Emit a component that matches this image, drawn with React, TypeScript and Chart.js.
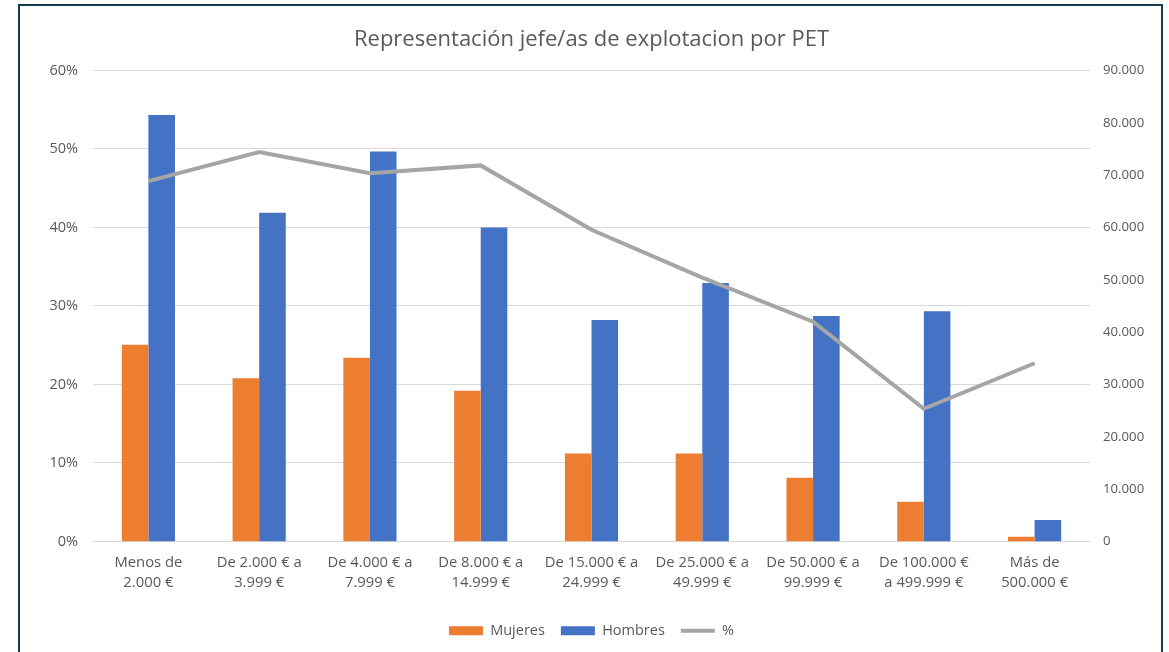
import React, { useEffect, useRef } from "react";
import { Chart, registerables } from "chart.js";

Chart.register(...registerables);

const categories: string[][] = [
  ["Menos de", "2.000 €"],
  ["De 2.000 € a", "3.999 €"],
  ["De 4.000 € a", "7.999 €"],
  ["De 8.000 € a", "14.999 €"],
  ["De 15.000 € a", "24.999 €"],
  ["De 25.000 € a", "49.999 €"],
  ["De 50.000 € a", "99.999 €"],
  ["De 100.000 €", "a 499.999 €"],
  ["Más de", "500.000 €"],
];

const mujeres: number[] = [37600, 31200, 35100, 28800, 16800, 16800, 12200, 7600, 900];
const hombres: number[] = [81500, 62800, 74500, 60000, 42300, 49400, 43100, 44000, 4100];
const porcentaje: number[] = [45.9, 49.6, 46.9, 47.9, 39.7, 33.6, 28.0, 16.9, 22.7];

const TITLE = "Representación jefe/as de explotacion por PET";
const FONT = "'Open Sans', sans-serif";
const TEXT = "#595959";

function fmtThousands(v: number | string): string {
  return String(Math.round(Number(v))).replace(/\B(?=(\d{3})+(?!\d))/g, ".");
}

export default function App() {
  const ref = useRef<HTMLCanvasElement>(null);

  useEffect(() => {
    if (!ref.current) return;
    const chart = new Chart(ref.current, {
      data: {
        labels: categories,
        datasets: [
          {
            type: "bar",
            label: "Mujeres",
            data: mujeres,
            backgroundColor: "#ED7D31",
            yAxisID: "y1",
            order: 2,
            categoryPercentage: 0.48,
            barPercentage: 1,
          },
          {
            type: "bar",
            label: "Hombres",
            data: hombres,
            backgroundColor: "#4472C4",
            yAxisID: "y1",
            order: 3,
            categoryPercentage: 0.48,
            barPercentage: 1,
          },
          {
            type: "line",
            label: "%",
            data: porcentaje,
            borderColor: "#A5A5A5",
            backgroundColor: "#A5A5A5",
            borderWidth: 4,
            pointRadius: 0,
            tension: 0,
            yAxisID: "y",
            order: 1,
          },
        ],
      } as any,
      options: {
        responsive: true,
        maintainAspectRatio: false,
        animation: false,
        events: [],
        layout: { padding: { left: 14, right: 0, top: 0, bottom: 4 } },
        plugins: {
          tooltip: { enabled: false },
          title: {
            display: true,
            text: TITLE,
            color: TEXT,
            font: { family: FONT, size: 22, weight: "normal", lineHeight: 1.2 },
            padding: { top: 27, bottom: 17 },
          },
          legend: {
            position: "bottom",
            labels: {
              usePointStyle: true,
              pointStyleWidth: 34,
              boxHeight: 9,
              padding: 16,
              color: TEXT,
              font: { family: FONT, size: 14.5 },
              sort: (a: any, b: any) => a.datasetIndex - b.datasetIndex,
              generateLabels: (c: any) => {
                const items = (Chart.defaults.plugins.legend.labels as any).generateLabels(c);
                return items.map((it: any) => ({
                  ...it,
                  pointStyle: c.data.datasets[it.datasetIndex].type === "line" ? "line" : "rect",
                }));
              },
            },
          },
        },
        scales: {
          x: {
            grid: { display: false, drawTicks: false },
            border: { display: false },
            ticks: {
              color: TEXT,
              font: { family: FONT, size: 14.8, lineHeight: 1.35 },
              padding: 11,
              maxRotation: 0,
              autoSkip: false,
            },
            afterFit: (s: any) => {
              s.height = 66;
            },
          },
          y: {
            type: "linear",
            position: "left",
            min: 0,
            max: 60,
            ticks: {
              stepSize: 10,
              callback: (v: any) => `${v}%`,
              color: TEXT,
              font: { family: FONT, size: 14.5 },
              padding: 15,
            },
            grid: { color: "#D9D9D9", lineWidth: 1, drawTicks: false },
            border: { display: false },
            afterFit: (s: any) => {
              s.width = 79;
            },
          },
          y1: {
            type: "linear",
            position: "right",
            min: 0,
            max: 90000,
            ticks: {
              stepSize: 10000,
              callback: (v: any) => fmtThousands(v),
              color: TEXT,
              font: { family: FONT, size: 13.2 },
              padding: 13,
            },
            grid: { display: false, drawTicks: false },
            border: { display: false },
            afterFit: (s: any) => {
              s.width = 79;
            },
          },
        },
      } as any,
    });
    return () => chart.destroy();
  }, []);

  return (
    <div
      style={{
        position: "fixed",
        left: 0,
        top: 0,
        width: 1169,
        height: 652,
        background: "#ffffff",
        overflow: "hidden",
      }}
    >
      <canvas ref={ref} />
      <div
        style={{
          position: "absolute",
          left: 18,
          top: 4,
          width: 1145,
          height: 660,
          boxSizing: "border-box",
          border: "2px solid #1B3A4C",
          pointerEvents: "none",
        }}
      />
    </div>
  );
}
